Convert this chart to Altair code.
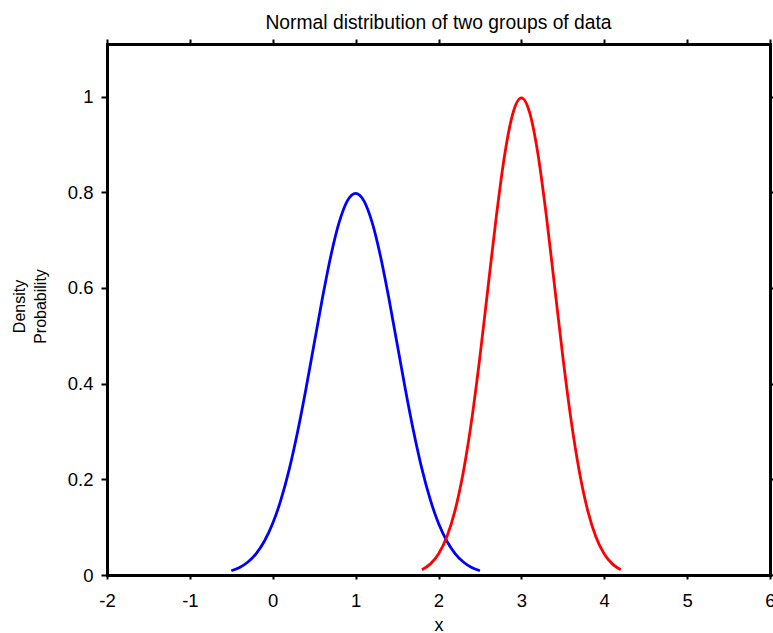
import altair as alt
import pandas as pd

# Group 1 (blue)
blue_x = [-0.5, -0.4, -0.3, -0.2, -0.1, 0.0, 0.1, 0.2, 0.3, 0.4, 0.5, 0.6, 0.7, 0.8, 0.9, 1.0,
          1.1, 1.2, 1.3, 1.4, 1.5, 1.6, 1.7, 1.8, 1.9, 2.0, 2.1, 2.2, 2.3, 2.4, 2.5]
blue_y = [0.0089, 0.0158, 0.0272, 0.0448, 0.0710, 0.1080, 0.1579, 0.2218, 0.2995, 0.3884,
          0.4839, 0.5794, 0.6664, 0.7365, 0.7821, 0.7979, 0.7821, 0.7365, 0.6664, 0.5794,
          0.4839, 0.3884, 0.2995, 0.2218, 0.1579, 0.1080, 0.0710, 0.0448, 0.0272, 0.0158, 0.0089]

# Group 2 (red)
red_x = [1.8, 1.9, 2.0, 2.1, 2.2, 2.3, 2.4, 2.5, 2.6, 2.7, 2.8, 2.9, 3.0,
         3.1, 3.2, 3.3, 3.4, 3.5, 3.6, 3.7, 3.8, 3.9, 4.0, 4.1, 4.2]
red_y = [0.0111, 0.0227, 0.0438, 0.0794, 0.1350, 0.2157, 0.3238, 0.4566, 0.6049, 0.7528,
         0.8802, 0.9667, 0.9974, 0.9667, 0.8802, 0.7528, 0.6049, 0.4566, 0.3238, 0.2157,
         0.1350, 0.0794, 0.0438, 0.0227, 0.0111]

x_ticks = [-2, -1, 0, 1, 2, 3, 4, 5, 6]
y_ticks = [0, 0.2, 0.4, 0.6, 0.8, 1]

df = pd.concat([
    pd.DataFrame({"x": blue_x, "y": blue_y, "g": "A"}),
    pd.DataFrame({"x": red_x, "y": red_y, "g": "B"}),
])

FONT = "Liberation Sans"

xscale = alt.Scale(domain=[-2, 6], nice=False, zero=False)
yscale = alt.Scale(domain=[0, 1.11], nice=False, zero=False)

common_axis = dict(
    domainColor="black", domainWidth=3, domainCap="square",
    tickColor="black", tickWidth=2, grid=False,
    labelFont=FONT, labelColor="black", titleFont=FONT, titleColor="black",
    titleFontWeight="normal", labelFlush=False, labelOverlap=False, labelBound=False,
)

lines = alt.Chart(df).mark_line(strokeWidth=2.8, interpolate="monotone").encode(
    x=alt.X("x:Q", scale=xscale,
            axis=alt.Axis(orient="bottom", values=x_ticks, tickSize=4,
                          labelExpr="toString(datum.value)",
                          labelFontSize=18.5, labelPadding=12, title="x", titleFontSize=18,
                          titleBaseline="alphabetic", titleY=55, **common_axis)),
    y=alt.Y("y:Q", scale=yscale,
            axis=alt.Axis(orient="left", values=y_ticks, tickSize=6, labelFontSize=18.5,
                          labelExpr="toString(datum.value)",
                          labelPadding=8, title=["Density", "Probability"], titleFontSize=16,
                          titleAngle=270, titleBaseline="alphabetic", titleAlign="center",
                          titleLineHeight=21, titleX=-83, titleY=262, **common_axis)),
    color=alt.Color("g:N", scale=alt.Scale(domain=["A", "B"], range=["#0000ff", "#ff0000"]),
                    legend=None),
    detail="g:N",
)

frame = alt.Chart(df).mark_point(opacity=0).encode(
    x=alt.X("x:Q", scale=xscale,
            axis=alt.Axis(orient="top", values=x_ticks, tickSize=5, labels=False, title=None,
                          **common_axis)),
    y=alt.Y("y:Q", scale=yscale,
            axis=alt.Axis(orient="right", values=y_ticks, tickSize=4, labels=False, title=None,
                          **common_axis)),
)

chart = alt.layer(lines, frame).resolve_axis(x="independent", y="independent").properties(
    width=663, height=531,
    padding={"left": 107, "top": 44, "right": 3, "bottom": 58},
    autosize=alt.AutoSizeParams(type="none"),
    title=alt.Title(text="Normal distribution of two groups of data", fontSize=19.3, font=FONT,
                    fontWeight="normal", color="black", offset=5, anchor="middle"),
    background="white",
).configure_view(stroke=None)

chart.save("out.html", embed_options={"renderer": "svg", "actions": False})
